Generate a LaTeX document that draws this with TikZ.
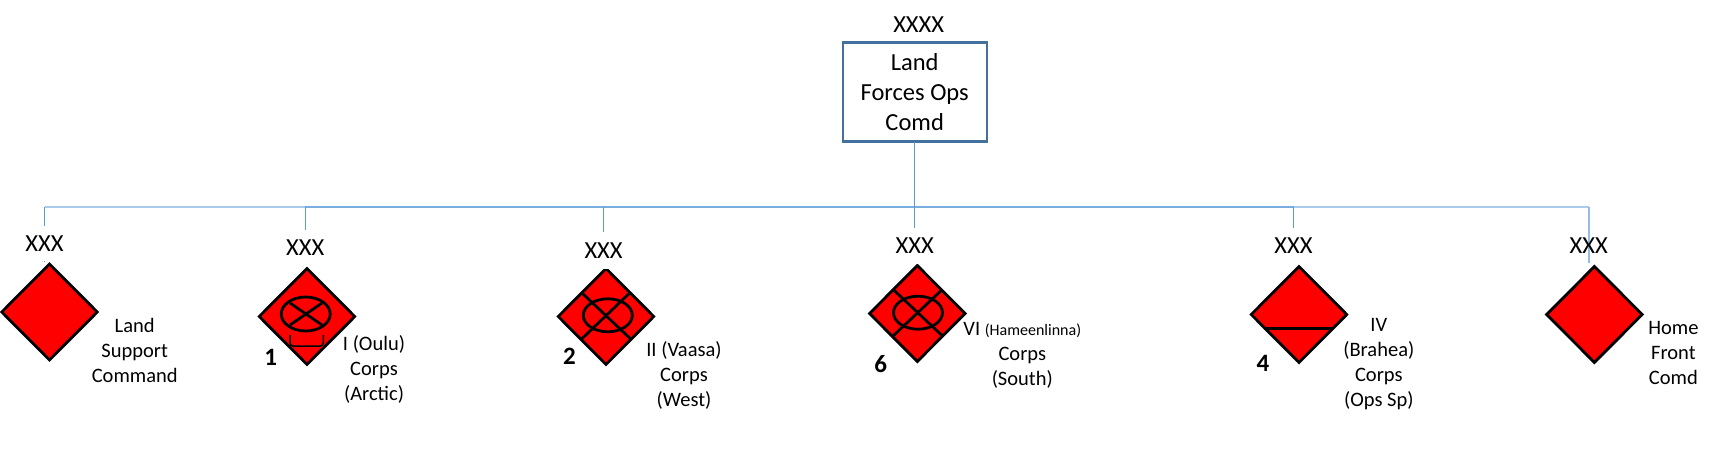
\documentclass[tikz,border=0pt]{standalone}
\usepackage{fontspec}
\setmainfont{Carlito}
\usetikzlibrary{shapes.geometric}
\definecolor{boxblue}{HTML}{41719C}
\definecolor{linkblue}{HTML}{5B9BD5}
\definecolor{busmid}{HTML}{7BAEE0}
\definecolor{buslight}{HTML}{A9CCEA}
\tikzset{
  x=1pt,y=-1pt,
  unitsym/.style={diamond,draw=black,fill=red,line width=2.8pt,minimum width=95.5pt,minimum height=96pt,inner sep=0pt,outer sep=0pt,aspect=1},
  echelon/.style={font=\fontsize{24.5}{30}\selectfont,inner sep=0pt,fill=white,minimum width=40pt},
  echelonclear/.style={font=\fontsize{24.5}{30}\selectfont,inner sep=0pt},
  cmdbox/.style={draw=boxblue,line width=2.2pt,fill=white,minimum width=144pt,minimum height=99pt,inner sep=0pt,outer sep=0pt,align=center,font=\fontsize{24.5}{30}\selectfont},
  unitlabel/.style={align=center,inner sep=0pt,font=\fontsize{20.5}{25}\selectfont},
  unitnum/.style={inner sep=0pt,font=\fontsize{25}{30}\selectfont\bfseries},
  stub/.style={draw=linkblue,line width=1pt},
  symline/.style={draw=black,line width=2.8pt},
}
\begin{document}
\begin{tikzpicture}
\useasboundingbox (0,0) rectangle (1730,450);
% junctions on the bus and free ends of the connectors
\coordinate (b1) at (44.5,207);
\coordinate (b2) at (305.3,207);
\coordinate (b3) at (603.6,207);
\coordinate (b4) at (914.7,207);
\coordinate (b5) at (1293.5,207);
\coordinate (b6) at (1588.8,207);
\coordinate (e1) at (44.5,262);
\coordinate (e2) at (305.3,266);
\coordinate (e3) at (603.6,266);
\coordinate (e4) at (914.7,263);
\coordinate (e5) at (1293.5,263);
\coordinate (e6) at (1588.8,263);
% bus
\draw[draw=buslight,line width=1.8pt] (b1) -- (b6);
\draw[draw=busmid,line width=1.8pt] (b2) -- (b5);
% stubs
\draw[stub] (b1) -- (e1);
\draw[stub] (b2) -- (e2);
\draw[stub] (b3) -- (e3);
\draw[stub] (b4) -- (e4);
\draw[stub] (b5) -- (e5);
\draw[draw=buslight!70!linkblue,line width=1.4pt] (b6) -- (e6);
% diamonds
\node[unitsym] (d1) at (49.5,312) {};
\node[unitsym] (d2) at (307,316.5) {};
\node[unitsym] (d3) at (606,316.5) {};
\node[unitsym] (d4) at (917.3,313.5) {};
\node[unitsym] (d5) at (1299,314.5) {};
\node[unitsym] (d6) at (1594.4,314.5) {};
% echelon labels
\node[echelon,minimum height=35pt] (x1) at (44.5,243.5) {XXX};
\node[echelon,minimum height=36pt] (x2) at (305.3,247.5) {XXX};
\node[echelon,minimum height=37pt] (x3) at (603.6,250.5) {XXX};
\node[echelon,minimum height=36pt] (x4) at (914.7,245.5) {XXX};
\node[echelon,minimum height=36pt] (x5) at (1293.5,245.5) {XXX};
\node[echelonclear] (x6) at (1588.8,245.5) {XXX};
\node[echelonclear] (x0) at (918.7,24.5) {XXXX};
% command box
\node[cmdbox] (top) at (914.7,92) {Land\\Forces Ops\\Comd};
\draw[draw=linkblue,line width=1.4pt] (top.south) -- (b4);
% symbols
\draw[symline] (305.7,314) ellipse [x radius=24.5,y radius=17];
\draw[symline] (290,303) -- (322,325);
\draw[symline] (322,303) -- (290,325);
\draw[draw=black,line width=1.5pt,rounded corners=3pt] (290,335) -- (290,346) -- (323.3,346) -- (323.3,335);
\draw[symline] (607.8,315.3) ellipse [x radius=24.5,y radius=16.5];
\draw[symline] (581.3,292.3) -- (631,339.3);
\draw[symline] (630.4,292.3) -- (581.3,339.3);
\draw[symline] (918,312.7) ellipse [x radius=24.5,y radius=16.5];
\draw[symline] (893,289.3) -- (942.5,336);
\draw[symline] (942.5,289.3) -- (893,336);
\draw[draw=black,line width=3pt] (1264.3,328) -- (1332.7,328);
% unit labels
\node[unitlabel] (l1) at (134.7,350.7) {Land\\Support\\Command};
\node[unitlabel] (l2) at (374,369) {I (Oulu)\\Corps\\(Arctic)};
\node[unitlabel] (l3) at (684,375) {II (Vaasa)\\Corps\\(West)};
\node[unitlabel] (l4) at (1022.3,355.7) {VI {\fontsize{16}{25}\selectfont (Hameenlinna)}\\Corps\\(South)};
\node[unitlabel] (l5) at (1378.8,364.5) {IV\\(Brahea)\\Corps\\(Ops Sp)};
\node[unitlabel] (l6) at (1673.4,352.5) {Home\\Front\\Comd};
% numbers
\node[unitnum] (n1) at (270.7,357) {1};
\node[unitnum] (n2) at (569.5,356) {2};
\node[unitnum] (n6) at (880.8,364) {6};
\node[unitnum] (n4) at (1263,363) {4};
\end{tikzpicture}
\end{document}
